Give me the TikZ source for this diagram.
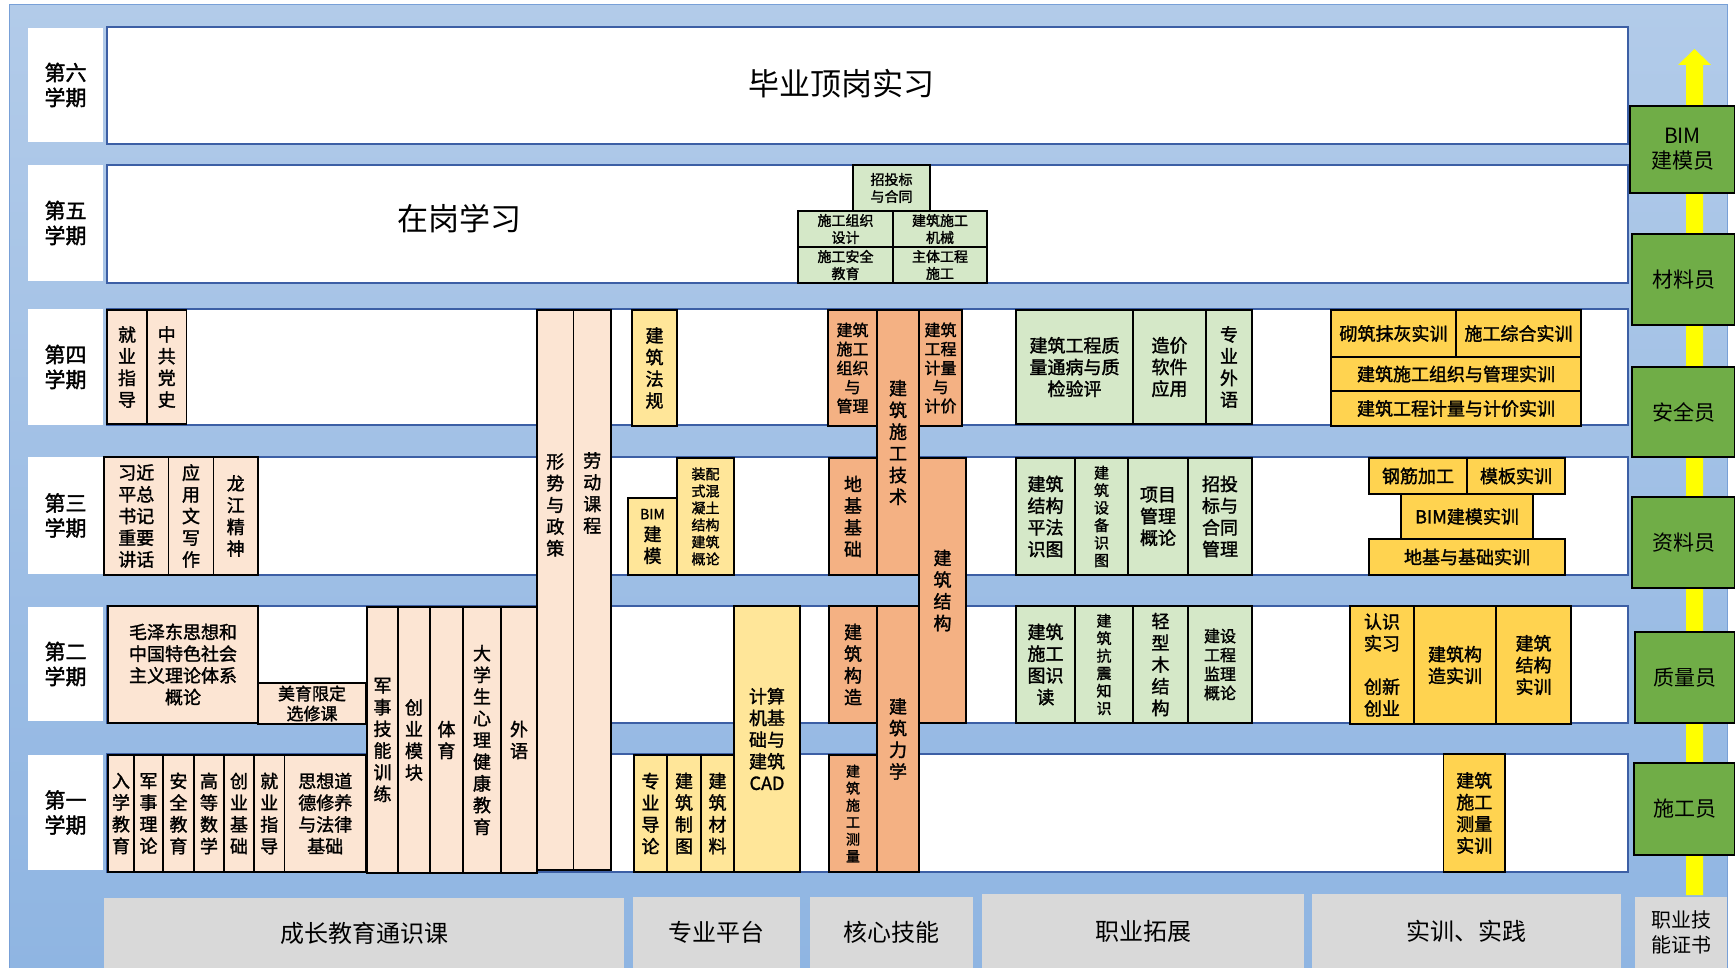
\documentclass[tikz,border=0pt]{standalone}
\usepackage{fontspec}
\setmainfont{Noto Sans CJK SC}
\newfontfamily\cjkheavy{Noto Sans CJK SC}[FakeBold=1.6]
\definecolor{cbeige}{RGB}{252,229,211}
\definecolor{clyellow}{RGB}{255,230,153}
\definecolor{corange}{RGB}{244,177,131}
\definecolor{clgreen}{RGB}{213,232,200}
\definecolor{cgold}{RGB}{255,211,80}
\definecolor{cgreen}{RGB}{112,173,71}
\definecolor{cgray}{RGB}{217,217,217}
\definecolor{crowline}{RGB}{60,95,165}
\definecolor{cbgtop}{RGB}{178,203,233}
\definecolor{cbgbot}{RGB}{143,181,226}
\definecolor{carrow}{RGB}{255,255,0}
\newcommand{\cbx}[7]{\node[#6, minimum width={#4-#2}, minimum height={#5-#3}] (#1) at ({(#2+#4)/2},{(#3+#5)/2}) {#7};}
\tikzset{
 cb/.style={draw=black, line width=1.3pt, inner sep=0pt, outer sep=0pt, align=center, font={\cjkheavy\fontsize{18}{21.7}\selectfont}},
 beige/.style={cb, fill=cbeige},
 lyel/.style={cb, fill=clyellow},
 orng/.style={cb, fill=corange},
 lgrn/.style={cb, fill=clgreen},
 gold/.style={cb, fill=cgold},
 cert/.style={cb, fill=cgreen, font={\fontsize{21}{25}\selectfont}},
 rowbox/.style={draw=crowline, line width=1.2pt, fill=white, inner sep=0pt, outer sep=0pt},
 labbox/.style={fill=white, inner sep=0pt, outer sep=0pt, align=center, font={\cjkheavy\fontsize{21}{25}\selectfont}},
 bot/.style={fill=cgray, inner sep=0pt, outer sep=0pt, align=center, font={\fontsize{24}{28}\selectfont}},
 vtxt/.style={inner sep=0pt, align=center, font={\cjkheavy\fontsize{18}{21.7}\selectfont}},
 big/.style={inner sep=0pt, font={\fontsize{31}{36}\selectfont}},
 sm/.style={font={\cjkheavy\fontsize{14}{17}\selectfont}},
 smm/.style={font={\cjkheavy\fontsize{15}{17.5}\selectfont}},
 md/.style={font={\cjkheavy\fontsize{16}{19}\selectfont}},
}
\begin{document}
\begin{tikzpicture}[x=1pt,y=-1pt]
\useasboundingbox (0,0) rectangle (1735,968);
\fill[white] (0,0) rectangle (1735,968);
\shade[top color=cbgtop, bottom color=cbgbot] (9,5) rectangle (1727,968);
\draw[color={rgb,255:red,120;green,160;blue,215}, line width=1pt] (9,968) -- (9,5) -- (1727,5) -- (1727,968);
% semester rows
\cbx{r6}{107}{27}{1628}{144}{rowbox}{}
\cbx{r5}{107}{165}{1628}{283}{rowbox}{}
\cbx{r4}{107}{309}{1628}{425}{rowbox}{}
\cbx{r3}{107}{457}{1628}{575}{rowbox}{}
\cbx{r2}{107}{606}{1628}{723}{rowbox}{}
\cbx{r1}{107}{754}{1628}{872}{rowbox}{}
\cbx{l6}{28}{28}{103}{142}{labbox}{第六\\学期}
\cbx{l5}{28}{165}{103}{281}{labbox}{第五\\学期}
\cbx{l4}{28}{309}{103}{425}{labbox}{第四\\学期}
\cbx{l3}{28}{457}{103}{574}{labbox}{第三\\学期}
\cbx{l2}{28}{607}{103}{721}{labbox}{第二\\学期}
\cbx{l1}{28}{755}{103}{870}{labbox}{第一\\学期}
\node[big] (t6) at (841,84) {毕业顶岗实习};
\node[big] (t5) at (459,219) {在岗学习};
% row 5
\cbx{g51}{853}{165}{930}{211}{lgrn,sm}{招投标\\与合同}
\cbx{g52}{798}{211}{893}{247}{lgrn,sm}{施工组织\\设计}
\cbx{g53}{893}{211}{987}{247}{lgrn,sm}{建筑施工\\机械}
\cbx{g54}{798}{247}{893}{283}{lgrn,sm}{施工安全\\教育}
\cbx{g55}{893}{247}{987}{283}{lgrn,sm}{主体工程\\施工}
% row 4
\cbx{b41}{107}{310}{147}{424}{beige}{就\\业\\指\\导}
\cbx{b42}{147}{310}{186.5}{424}{beige}{中\\共\\党\\史}
\cbx{xs}{537}{310}{573.5}{870}{beige}{}
\node[vtxt] (xst) at (555.25,505) {形\\势\\与\\政\\策};
\cbx{ld}{573.5}{310}{611}{870}{beige}{}
\node[vtxt] (ldt) at (592.25,493) {劳\\动\\课\\程};
\cbx{y41}{632}{310}{677}{426}{lyel}{建\\筑\\法\\规}
\cbx{o41}{828}{310}{877}{426}{orng,md}{建筑\\施工\\组织\\与\\管理}
\cbx{o42}{877}{310}{919}{575}{orng}{建\\筑\\施\\工\\技\\术}
\cbx{o43}{919}{310}{962}{426}{orng,md}{建筑\\工程\\计量\\与\\计价}
\cbx{g41}{1016}{310}{1133}{424}{lgrn}{建筑工程质\\量通病与质\\检验评}
\cbx{g42}{1133}{310}{1206}{424}{lgrn}{造价\\软件\\应用}
\cbx{g43}{1206}{310}{1252}{424}{lgrn}{专\\业\\外\\语}
\cbx{s41}{1331}{310}{1456}{357}{gold}{砌筑抹灰实训}
\cbx{s42}{1456}{310}{1581}{357}{gold}{施工综合实训}
\cbx{s43}{1331}{357}{1581}{391}{gold}{建筑施工组织与管理实训}
\cbx{s44}{1331}{391}{1581}{426}{gold}{建筑工程计量与计价实训}
% row 3
\cbx{b31}{104}{457}{168.5}{575}{beige}{习近\\平总\\书记\\重要\\讲话}
\cbx{b32}{168.5}{457}{213.5}{575}{beige}{应\\用\\文\\写\\作}
\cbx{b33}{213.5}{457}{258}{575}{beige}{龙\\江\\精\\神}
\cbx{y31}{628}{498}{677}{575}{lyel}{{\fontsize{14}{17}\selectfont BIM}\\建\\模}
\cbx{y32}{677}{458}{734}{575}{lyel,sm}{装配\\式混\\凝土\\结构\\建筑\\概论}
\cbx{o31}{829}{458}{877}{575}{orng}{地\\基\\基\\础}
\cbx{o32}{919}{458}{966}{723}{orng}{建\\筑\\结\\构}
\cbx{g31}{1016}{458}{1075}{575}{lgrn}{建筑\\结构\\平法\\识图}
\cbx{g32}{1075}{458}{1128}{575}{lgrn,smm}{建\\筑\\设\\备\\识\\图}
\cbx{g33}{1128}{458}{1188}{575}{lgrn}{项目\\管理\\概论}
\cbx{g34}{1188}{458}{1252}{575}{lgrn}{招投\\标与\\合同\\管理}
\cbx{s31}{1369}{458}{1467}{494}{gold}{钢筋加工}
\cbx{s32}{1467}{458}{1565}{494}{gold}{模板实训}
\cbx{s33}{1401}{494}{1533}{539}{gold}{BIM建模实训}
\cbx{s34}{1369}{539}{1565}{575}{gold}{地基与基础实训}
% row 2
\cbx{b21}{108}{606}{258}{723}{beige}{毛泽东思想和\\中国特色社会\\主义理论体系\\概论}
\cbx{b22}{258}{683}{366}{724}{beige,font={\cjkheavy\fontsize{17}{20}\selectfont}}{美育限定\\选修课}
\cbx{b23}{367}{607}{398}{873}{beige}{军\\事\\技\\能\\训\\练}
\cbx{b24}{398}{607}{430}{873}{beige}{创\\业\\模\\块}
\cbx{b25}{430}{607}{463}{873}{beige}{体\\育}
\cbx{b26}{463}{607}{501}{873}{beige}{大\\学\\生\\心\\理\\健\\康\\教\\育}
\cbx{b27}{501}{607}{537}{873}{beige}{外\\语}
\cbx{y21}{734}{606}{800}{872}{lyel}{计算\\机基\\础与\\建筑\\CAD}
\cbx{o21}{829}{606}{877}{723}{orng}{建\\筑\\构\\造}
\cbx{o22}{877}{606}{919}{872}{orng}{建\\筑\\力\\学}
\cbx{g21}{1016}{606}{1075}{723}{lgrn}{建筑\\施工\\图识\\读}
\cbx{g22}{1075}{606}{1133}{723}{lgrn,smm}{建\\筑\\抗\\震\\知\\识}
\cbx{g23}{1133}{606}{1188}{723}{lgrn}{轻\\型\\木\\结\\构}
\cbx{g24}{1188}{606}{1252}{723}{lgrn,md}{建设\\工程\\监理\\概论}
\cbx{s21}{1350}{606}{1414}{724}{gold}{认识\\实习\\[21.7pt]创新\\创业}
\cbx{s22}{1414}{606}{1496}{724}{gold}{建筑构\\造实训}
\cbx{s23}{1496}{606}{1571}{724}{gold}{建筑\\结构\\实训}
% row 1
\cbx{b11}{108}{755}{134}{872}{beige}{入\\学\\教\\育}
\cbx{b12}{134}{755}{163}{872}{beige}{军\\事\\理\\论}
\cbx{b13}{163}{755}{194}{872}{beige}{安\\全\\教\\育}
\cbx{b14}{194}{755}{224}{872}{beige}{高\\等\\数\\学}
\cbx{b15}{224}{755}{254}{872}{beige}{创\\业\\基\\础}
\cbx{b16}{254}{755}{284.5}{872}{beige}{就\\业\\指\\导}
\cbx{b17}{284.5}{755}{366}{872}{beige}{思想道\\德修养\\与法律\\基础}
\cbx{y11}{634}{755}{667}{872}{lyel}{专\\业\\导\\论}
\cbx{y12}{667}{755}{701}{872}{lyel}{建\\筑\\制\\图}
\cbx{y13}{701}{755}{734}{872}{lyel}{建\\筑\\材\\料}
\cbx{o11}{829}{755}{877}{872}{orng,sm}{建\\筑\\施\\工\\测\\量}
\cbx{s11}{1443.5}{754}{1505}{872}{gold}{建筑\\施工\\测量\\实训}
% arrow and certificates
\fill[carrow] (1686,895) -- (1686,65) -- (1678,65) -- (1694.5,49) -- (1711,65) -- (1703,65) -- (1703,895) -- cycle;
\cbx{c1}{1630}{106}{1735}{193}{cert}{BIM\\建模员}
\cbx{c2}{1632}{234}{1735}{325}{cert}{材料员}
\cbx{c3}{1632}{367}{1735}{457}{cert}{安全员}
\cbx{c4}{1632}{497}{1735}{588}{cert}{资料员}
\cbx{c5}{1635}{632}{1735}{723}{cert}{质量员}
\cbx{c6}{1634}{763}{1735}{855}{cert}{施工员}
% bottom categories
\cbx{k1}{104}{898}{624}{968}{bot}{成长教育通识课}
\cbx{k2}{633}{897}{800}{968}{bot}{专业平台}
\cbx{k3}{810}{897}{973}{968}{bot}{核心技能}
\cbx{k4}{982}{894}{1304}{968}{bot}{职业拓展}
\cbx{k5}{1312}{894}{1621}{968}{bot}{实训、实践}
\cbx{k6}{1635}{897}{1727}{968}{bot,font={\fontsize{20}{25}\selectfont}}{职业技\\能证书}
\end{tikzpicture}
\end{document}
